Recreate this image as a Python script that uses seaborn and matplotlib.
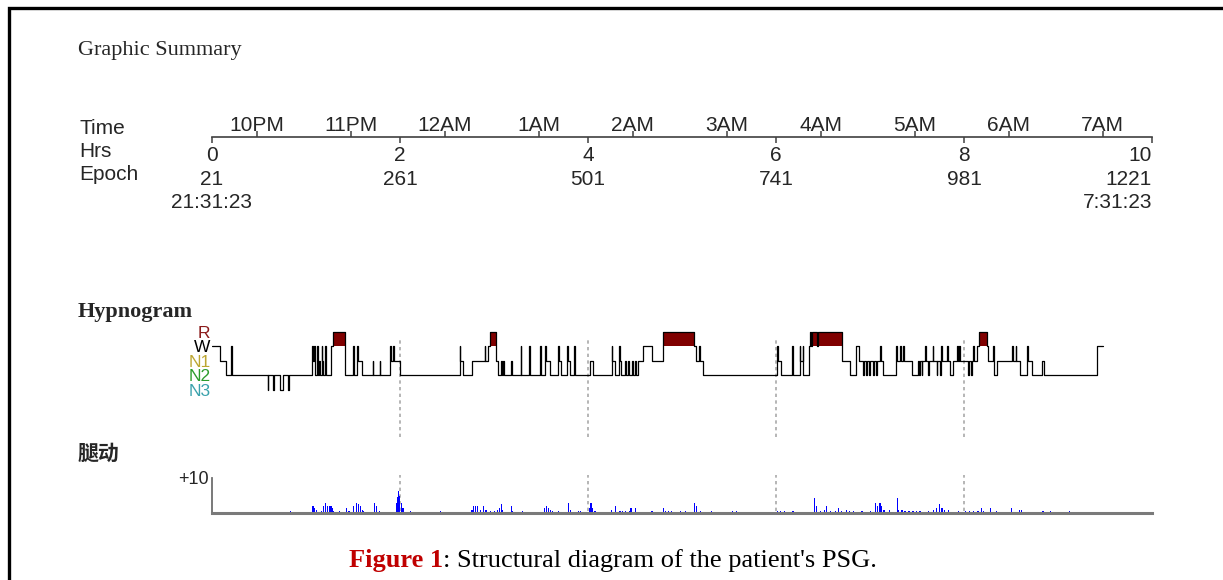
import numpy as np
import pandas as pd
import matplotlib
matplotlib.use("Agg")
import matplotlib.pyplot as plt
from matplotlib.patches import Rectangle
import seaborn as sns

# ---------------- data ----------------
# time axis
hour_ticks = [0, 2, 4, 6, 8, 10]
epoch_labels = ["21", "261", "501", "741", "981", "1221"]
start_clock = "21:31:23"
end_clock = "7:31:23"
clock_labels = ["10PM", "11PM", "12AM", "1AM", "2AM", "3AM", "4AM", "5AM", "6AM", "7AM"]
first_clock_h = (28 * 60 + 37) / 3600.0   # 21:31:23 -> 22:00:00

# hypnogram: epoch (30 s, from start) where a stage begins, and the stage
hyp_start = [
    0, 10, 18, 24, 26, 71, 72, 78, 79, 87,
    91, 97, 98, 128, 129, 130, 131, 132, 134, 135,
    137, 138, 140, 141, 142, 144, 145, 152, 154, 170,
    180, 181, 185, 186, 191, 205, 206, 214, 215, 227,
    228, 231, 232, 240, 316, 317, 320, 332, 348, 349,
    352, 355, 362, 363, 365, 369, 370, 372, 373, 382,
    383, 394, 395, 405, 406, 419, 420, 425, 426, 431,
    442, 443, 445, 453, 454, 457, 462, 463, 482, 486,
    510, 511, 514, 520, 521, 522, 527, 528, 531, 532,
    536, 537, 540, 541, 544, 550, 562, 576, 615, 618,
    622, 623, 627, 721, 722, 726, 741, 742, 750, 751,
    754, 755, 762, 763, 765, 766, 772, 773, 804, 814,
    822, 826, 831, 832, 835, 836, 839, 840, 844, 845,
    848, 849, 853, 854, 857, 873, 874, 878, 879, 882,
    883, 894, 901, 903, 904, 906, 907, 910, 911, 914,
    915, 920, 921, 925, 926, 929, 930, 931, 932, 938,
    939, 942, 946, 951, 952, 954, 955, 965, 966, 969,
    970, 972, 973, 977, 979, 989, 990, 997, 998, 1002,
    1021, 1022, 1026, 1027, 1031, 1041, 1042, 1047, 1060, 1062,
    1130,
]
hyp_stage = [
    "W", "N1", "N2", "W", "N2", "N3", "N2", "N3", "N2", "N3",
    "N2", "N3", "N2", "W", "N1", "W", "N1", "N2", "W", "N2",
    "N1", "N2", "W", "N1", "N2", "W", "N2", "W", "R", "N2",
    "W", "N2", "W", "N1", "N2", "N1", "N2", "N1", "N2", "W",
    "N1", "W", "N1", "N2", "W", "N1", "N2", "N1", "W", "N1",
    "W", "R", "W", "N1", "N2", "N1", "N2", "N1", "N2", "N1",
    "N2", "W", "N2", "W", "N2", "W", "N2", "W", "N1", "N2",
    "W", "N1", "N2", "W", "N1", "N2", "W", "N2", "N1", "N2",
    "W", "N1", "N2", "W", "N1", "N2", "N1", "N2", "N1", "N2",
    "N1", "N2", "N1", "N2", "N1", "W", "N1", "R", "W", "N1",
    "W", "N1", "N2", "W", "N1", "N2", "W", "N2", "W", "N1",
    "W", "N2", "W", "R", "W", "R", "W", "R", "N1", "N2",
    "W", "N1", "N2", "N1", "N2", "N1", "N2", "N1", "N2", "N1",
    "N2", "N1", "W", "N1", "N2", "W", "N1", "W", "N1", "W",
    "N1", "N2", "N1", "N2", "N1", "N2", "N1", "W", "N1", "N2",
    "N1", "W", "N1", "N2", "N1", "N2", "N1", "W", "N1", "W",
    "N1", "N2", "N1", "W", "N1", "W", "N1", "N2", "N1", "N2",
    "N1", "W", "N1", "W", "R", "W", "N1", "W", "N2", "N1",
    "W", "N1", "W", "N1", "N2", "W", "N1", "N2", "N1", "N2",
    "W",
]
hyp_end = 1138

stage_names = ["N3", "N2", "N1", "W", "R"]
stage_colors = ["#3aa2ac", "#2c9c2c", "#bca632", "#000000", "#8b1a1a"]

# leg movements: epoch and bar height (scale 0..+10)
leg_epoch = [
    99, 128, 130, 133, 139, 142, 144, 147, 149, 151, 153, 154, 162, 171, 174,
    180, 184, 186, 189, 191, 193, 207, 209, 213, 235, 236, 237, 239, 241, 243,
    253, 291, 331, 333, 336, 338, 342, 346, 349, 355, 360, 364, 366, 369, 370,
    382, 383, 396, 424, 426, 429, 431, 434, 442, 454, 457, 467, 470, 481, 483,
    485, 488, 509, 514, 520, 523, 527, 532, 534, 540, 561, 576, 578, 582, 586,
    597, 604, 615, 618, 623, 637, 664, 669, 721, 725, 730, 741, 768, 771, 776,
    781, 784, 789, 795, 799, 803, 809, 813, 818, 829, 840, 846, 849, 852, 854,
    857, 864, 874, 876, 880, 884, 889, 894, 899, 903, 914, 920, 924, 928, 931,
    934, 939, 952, 961, 966, 971, 977, 982, 984, 993, 1001, 1020, 1030, 1033, 1060,
    1070, 1094,
]
leg_height = [
    0.6, 2.0, 1.5, 1.0, 0.6, 2.0, 3.0, 2.0, 2.0, 2.0, 1.5, 0.6, 0.6, 1.5, 0.6,
    2.0, 3.0, 2.5, 2.0, 1.0, 0.6, 3.0, 2.0, 0.6, 3.0, 4.5, 6.2, 5.0, 3.0, 1.5,
    0.6, 0.6, 1.0, 2.0, 2.0, 2.0, 1.0, 2.0, 1.0, 0.6, 0.6, 1.0, 1.5, 2.5, 1.0,
    2.0, 0.6, 0.6, 1.5, 2.0, 1.5, 1.0, 0.6, 0.6, 3.0, 1.0, 0.6, 0.6, 1.5, 3.0,
    1.5, 0.6, 0.8, 1.9, 0.6, 0.6, 0.6, 0.6, 1.5, 1.5, 0.6, 1.5, 0.6, 0.6, 0.6,
    0.6, 0.6, 2.9, 2.0, 0.6, 0.6, 0.6, 0.6, 0.6, 0.6, 0.6, 0.6, 4.4, 2.0, 0.6,
    1.0, 2.0, 0.6, 0.6, 1.5, 0.6, 1.0, 0.6, 0.6, 0.6, 0.6, 2.9, 2.0, 2.9, 1.9,
    1.0, 1.0, 4.4, 1.0, 1.0, 0.6, 0.6, 0.6, 0.6, 0.6, 0.6, 1.0, 1.5, 2.5, 1.5,
    1.0, 1.0, 0.6, 0.6, 0.6, 0.6, 0.6, 1.5, 0.6, 1.5, 0.6, 1.5, 1.0, 1.0, 0.6,
    0.6, 0.6,
]

EPOCHS_PER_HOUR = 120

# ---------------- style ----------------
sns.set_theme(style="white")
plt.rcParams["font.family"] = ["Liberation Sans", "Noto Sans CJK SC", "DejaVu Sans"]

W_PX, H_PX = 1223, 580
fig = plt.figure(figsize=(W_PX / 100, H_PX / 100), dpi=100)
fig.patch.set_facecolor("white")


def box(x0, y0, x1, y1):
    return [x0 / W_PX, 1 - y1 / H_PX, (x1 - x0) / W_PX, (y1 - y0) / H_PX]


def fy(y):
    return 1 - y / H_PX


# frame (top and left edges visible)
fig.add_artist(Rectangle((9 / W_PX, -0.2), 1.5, fy(8) + 0.2, transform=fig.transFigure,
                         fill=False, lw=2.4, ec="black"))

serif = "Liberation Serif"
fig.text(78 / W_PX, fy(55), "Graphic Summary", fontfamily=serif, fontsize=16, va="baseline")

# ---------------- time axis ----------------
ax_t = fig.add_axes(box(212, 136.5, 1152, 137.5))
ax_t.set_facecolor("none")
ax_t.set_xlim(0, 10)
ax_t.set_ylim(0, 1)
ax_t.set_yticks([])
for s in ["left", "right", "top"]:
    ax_t.spines[s].set_visible(False)
ax_t.spines["bottom"].set_color("#404040")
ax_t.spines["bottom"].set_linewidth(1.2)

major_labels = []
for i, (h, e) in enumerate(zip(hour_ticks, epoch_labels)):
    lab = f"{h}\n{e}"
    if i == 0:
        lab += "\n" + start_clock
    if i == len(hour_ticks) - 1:
        lab += "\n" + end_clock
    major_labels.append(lab)
ax_t.set_xticks(hour_ticks)
ax_t.set_xticklabels(major_labels, fontsize=15, linespacing=1.32)
last = ax_t.get_xticklabels()[-1]
last.set_horizontalalignment("right")
last.set_multialignment("right")

clock_pos = [first_clock_h + k for k in range(len(clock_labels))]
ax_t.set_xticks(clock_pos, minor=True)
ax_t.set_xticklabels(clock_labels, minor=True, fontsize=15)
ax_t.tick_params(axis="x", which="major", bottom=True, top=False, direction="out",
                 length=4, width=1.1, color="#404040", pad=2)
ax_t.tick_params(axis="x", which="minor", bottom=False, top=True, labelbottom=False,
                 labeltop=True, direction="out", length=4, width=1.1, color="#404040", pad=-3)

fig.text(79 / W_PX, fy(134), "Time", fontsize=15, va="baseline")
fig.text(79 / W_PX, fy(157), "Hrs", fontsize=15, va="baseline")
fig.text(79 / W_PX, fy(180), "Epoch", fontsize=15, va="baseline")

# ---------------- hypnogram ----------------
fig.text(78 / W_PX, fy(317), "Hypnogram", fontfamily=serif, fontsize=16,
         fontweight="bold", va="baseline")

ax_h = fig.add_axes(box(212, 325, 1152, 440))
ax_h.set_facecolor("none")
level = {s: i for i, s in enumerate(stage_names)}
starts = np.array(hyp_start + [hyp_end]) / EPOCHS_PER_HOUR
levels = np.array([level[s] for s in hyp_stage + [hyp_stage[-1]]], dtype=float)
hyp_df = pd.DataFrame({"hour": starts, "level": levels})

ax_h.vlines([2, 4, 6, 8], -3.28, 3.55, colors="#a9a9a9", linestyles=(0, (2, 2)),
            lw=1.2, zorder=0)

r_idx = [i for i, s in enumerate(hyp_stage) if s == "R"]
r_left = starts[r_idx]
r_width = starts[[i + 1 for i in r_idx]] - r_left
ax_h.bar(r_left, 1.0, width=r_width, bottom=3.0, align="edge", color="#800000",
         lw=0, zorder=1)

sns.lineplot(data=hyp_df, x="hour", y="level", drawstyle="steps-post", color="black",
             lw=0.9, estimator=None, sort=False, ax=ax_h, zorder=2)

ax_h.set_xlim(0, 10)
ax_h.set_ylim(-3.48, 4.45)
ax_h.set_xticks([])
ax_h.set_yticks(range(len(stage_names)))
ax_h.set_yticklabels(stage_names, fontsize=12.5)
for lab, c in zip(ax_h.get_yticklabels(), stage_colors):
    lab.set_color(c)
ax_h.tick_params(axis="y", length=0, pad=1)
ax_h.set_xlabel("")
ax_h.set_ylabel("")
for s in ax_h.spines.values():
    s.set_visible(False)

# ---------------- leg movements ----------------
fig.text(78 / W_PX, fy(453), "腿动", fontfamily=["Noto Sans CJK SC"], fontsize=15,
         fontweight="bold", va="center")

ax_l = fig.add_axes(box(212, 478, 1152, 513))
ax_l.set_facecolor("none")
ax_l.vlines([2, 4, 6, 8], 0.6, 10.9, colors="#a9a9a9", linestyles=(0, (2, 2)),
            lw=1.2, zorder=0, clip_on=False)
leg_x = np.array(leg_epoch) / EPOCHS_PER_HOUR
ax_l.bar(leg_x, leg_height, width=1.6 / EPOCHS_PER_HOUR, align="edge", color="#0000ff",
         lw=0, zorder=1)
ax_l.set_xlim(0, 10)
ax_l.set_ylim(0, 10)
ax_l.set_xticks([])
ax_l.set_yticks([10])
ax_l.set_yticklabels(["+10"], fontsize=13)
ax_l.tick_params(axis="y", length=0, pad=2)
for s in ["top", "right"]:
    ax_l.spines[s].set_visible(False)
ax_l.spines["left"].set_color("#6e6e6e")
ax_l.spines["left"].set_linewidth(1.3)
ax_l.spines["bottom"].set_color("#7a7a7a")
ax_l.spines["bottom"].set_linewidth(2.2)
ax_l.spines["bottom"].set_zorder(3)

# ---------------- caption ----------------
cap1 = fig.text(349 / W_PX, fy(567), "Figure 1", fontfamily=serif, fontsize=19,
                fontweight="bold", color="#c00000", va="baseline")
fig.canvas.draw()
bb = cap1.get_window_extent()
fig.text(bb.x1 / W_PX, fy(567), ": Structural diagram of the patient's PSG.",
         fontfamily=serif, fontsize=19, color="black", va="baseline")

fig.savefig("out.png", dpi=100, facecolor="white")
